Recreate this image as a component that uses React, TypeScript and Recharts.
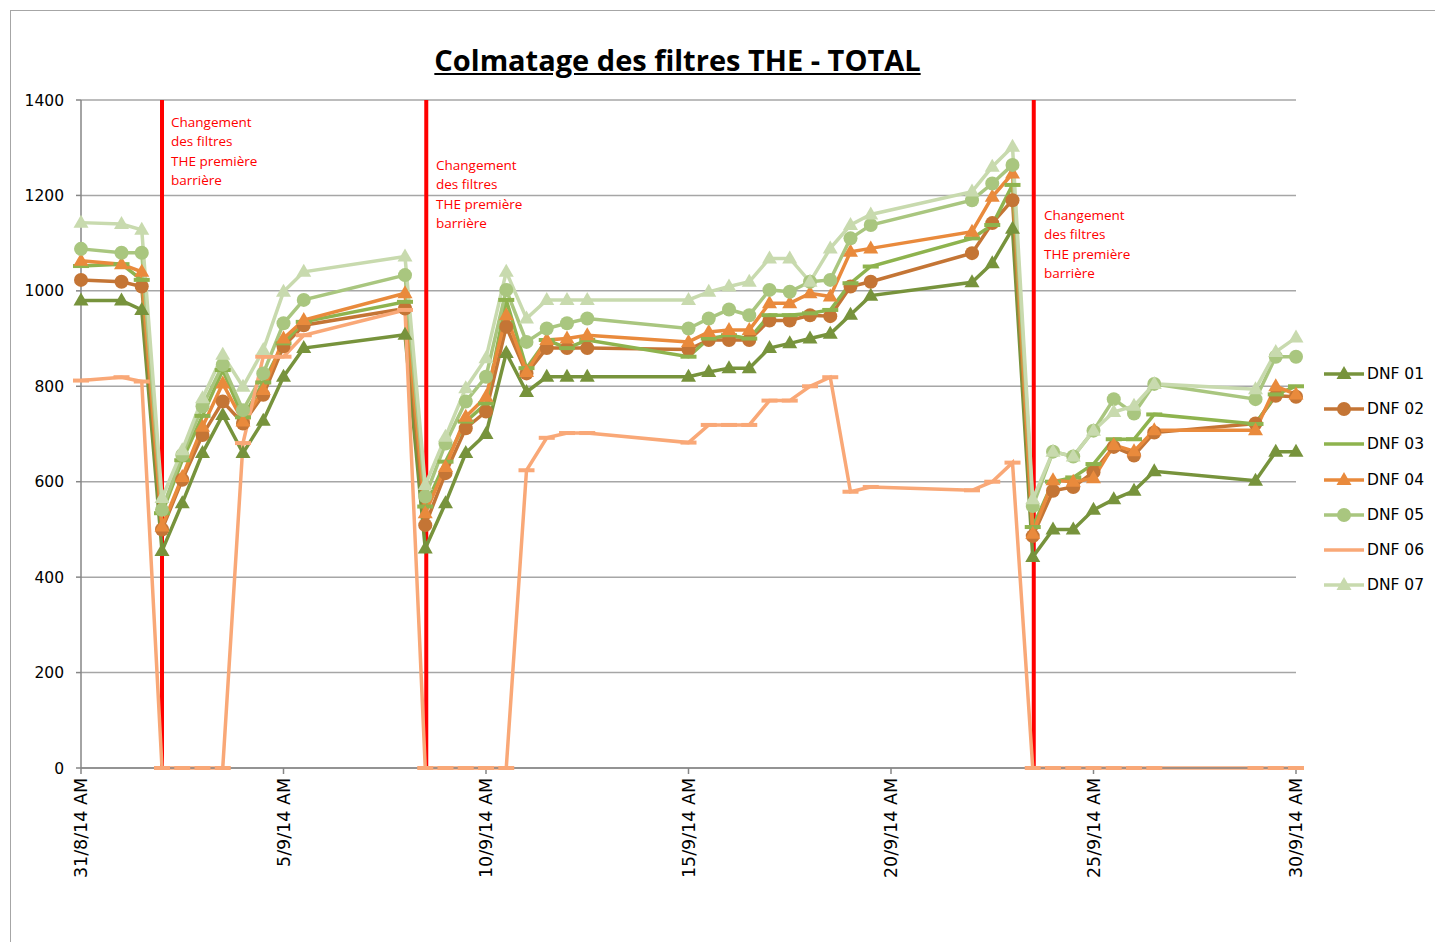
import React from "react";
import {
  LineChart,
  Line,
  XAxis,
  YAxis,
  CartesianGrid,
  ReferenceLine,
} from "recharts";

// x = half-days since 31/8/14 AM
const HALF_DAYS = [
  0, 2, 3, 4, 5, 6, 7, 8, 9, 10, 11, 16, 17, 18, 19, 20, 21, 22, 23, 24, 25,
  30, 31, 32, 33, 34, 35, 36, 37, 38, 39, 44, 45, 46, 47, 48, 49, 50, 51, 52,
  53, 58, 59, 60,
];

const DNF01 = [
  980, 980, 960, 455, 555, 660, 740, 660, 728, 820, 880, 908, 460, 555, 660,
  700, 870, 788, 820, 820, 820, 820, 830, 838, 838, 880, 890, 900, 910, 950,
  990, 1018, 1058, 1130, 442, 500, 500, 541, 563, 581, 622, 602, 663, 663,
];
const DNF02 = [
  1023, 1019, 1009, 500, 604, 698, 768, 722, 782, 884, 928, 963, 509, 618, 712,
  747, 925, 827, 880, 880, 880, 877, 897, 897, 897, 938, 938, 949, 947, 1009,
  1019, 1079, 1142, 1190, 486, 581, 589, 620, 673, 655, 703, 722, 780, 778,
];
const DNF03 = [
  1052, 1056, 1023, 534, 645, 738, 834, 735, 808, 890, 935, 977, 548, 642, 726,
  764, 981, 838, 897, 880, 897, 862, 900, 907, 900, 949, 949, 953, 960, 1016,
  1051, 1110, 1138, 1222, 505, 600, 609, 637, 689, 689, 741, 721, 783, 800,
];
const DNF04 = [
  1063, 1056, 1040, 506, 610, 715, 806, 726, 792, 900, 939, 995, 534, 631, 736,
  778, 949, 830, 897, 900, 907, 893, 914, 918, 918, 974, 974, 995, 988, 1082,
  1089, 1124, 1197, 1246, 491, 603, 600, 607, 677, 664, 708, 708, 800, 783,
];
const DNF05 = [
  1088, 1080, 1080, 541, 656, 758, 845, 750, 827, 932, 981, 1033, 569, 680,
  768, 820, 1002, 893, 921, 932, 942, 921, 942, 961, 949, 1002, 998, 1019,
  1023, 1110, 1138, 1190, 1225, 1264, 549, 663, 653, 707, 773, 743, 805, 773,
  862, 862,
];
const DNF06 = [
  812, 819, 810, 0, 0, 0, 0, 681, 862, 862, 907, 960, 0, 0, 0, 0, 0, 624, 692,
  702, 702, 682, 719, 719, 719, 770, 770, 800, 819, 579, 589, 582, 600, 640, 0,
  0, 0, 0, 0, 0, 0, 0, 0, 0,
];
const DNF07 = [
  1143, 1140, 1128, 566, 666, 775, 866, 799, 876, 998, 1040, 1072, 593, 694,
  796, 859, 1040, 942, 981, 981, 981, 981, 998, 1009, 1019, 1068, 1068, 1019,
  1089, 1138, 1160, 1208, 1260, 1302, 563, 663, 653, 707, 746, 759, 805, 794,
  872, 902,
];

const X_TICKS = [0, 10, 20, 30, 40, 50, 60];
const X_LABELS = [
  "31/8/14 AM",
  "5/9/14 AM",
  "10/9/14 AM",
  "15/9/14 AM",
  "20/9/14 AM",
  "25/9/14 AM",
  "30/9/14 AM",
];
const Y_TICKS = [0, 200, 400, 600, 800, 1000, 1200, 1400];

// filter changes (half-days)
const CHANGES = [4, 17.05, 47.05];
const CHANGE_TEXT = ["Changement", "des filtres", "THE première", "barrière"];

type Shape = "triangle" | "circle" | "dash";

const SERIES: { key: string; name: string; color: string; shape: Shape }[] = [
  { key: "d1", name: "DNF 01", color: "#77933C", shape: "triangle" },
  { key: "d2", name: "DNF 02", color: "#C47535", shape: "circle" },
  { key: "d3", name: "DNF 03", color: "#8EB34E", shape: "dash" },
  { key: "d4", name: "DNF 04", color: "#E98A3C", shape: "triangle" },
  { key: "d5", name: "DNF 05", color: "#A9C67F", shape: "circle" },
  { key: "d6", name: "DNF 06", color: "#F9A877", shape: "dash" },
  { key: "d7", name: "DNF 07", color: "#C8DAAE", shape: "triangle" },
];

const data = HALF_DAYS.map((h, i) => ({
  h,
  d1: DNF01[i],
  d2: DNF02[i],
  d3: DNF03[i],
  d4: DNF04[i],
  d5: DNF05[i],
  d6: DNF06[i],
  d7: DNF07[i],
}));

const FONT = "'DejaVu Sans', sans-serif";
const NOTE_FONT = "'Open Sans', sans-serif";

function Marker({ cx, cy, shape, color }: { cx: number; cy: number; shape: Shape; color: string }) {
  if (cx == null || cy == null) return null;
  if (shape === "triangle")
    return (
      <path
        d={`M${cx},${cy - 8} L${cx + 7.5},${cy + 5} L${cx - 7.5},${cy + 5} Z`}
        fill={color}
      />
    );
  if (shape === "circle") return <circle cx={cx} cy={cy} r={7} fill={color} />;
  return <rect x={cx - 8} y={cy - 2} width={16} height={4} fill={color} />;
}

function XTick(props: any) {
  const { x, y, payload } = props;
  const idx = X_TICKS.indexOf(payload.value);
  return (
    <text
      x={x}
      y={y}
      dy="0.36em"
      textAnchor="end"
      transform={`rotate(-90, ${x}, ${y})`}
      fontFamily={FONT}
      fontSize={17.5}
      fill="#000"
    >
      {X_LABELS[idx]}
    </text>
  );
}

export default function App() {
  return (
    <div
      style={{
        position: "absolute",
        left: 0,
        top: 0,
        width: 1435,
        height: 942,
        overflow: "hidden",
        background: "#fff",
      }}
    >
      <div
        style={{
          position: "absolute",
          left: 10,
          top: 10,
          width: 1440,
          height: 960,
          border: "1px solid #a6a6a6",
        }}
      />
      <div
        style={{
          position: "absolute",
          left: 0,
          width: 1355,
          top: 40,
          textAlign: "center",
          fontFamily: NOTE_FONT,
          fontWeight: 700,
          fontSize: 29,
          textDecoration: "underline",
          color: "#000",
        }}
      >
        Colmatage des filtres THE - TOTAL
      </div>

      <div style={{ position: "absolute", left: 0, top: 0 }}>
        <LineChart
          width={1435}
          height={942}
          data={data}
          margin={{ top: 100, right: 139, left: 21, bottom: 64 }}
        >
          <CartesianGrid vertical={false} stroke="#A6A6A6" strokeWidth={1.5} />
          <XAxis
            dataKey="h"
            type="number"
            domain={[0, 60]}
            ticks={X_TICKS}
            interval={0}
            height={110}
            tick={<XTick />}
            tickSize={6}
            tickMargin={4}
            axisLine={{ stroke: "#868686", strokeWidth: 1.5 }}
            tickLine={{ stroke: "#868686", strokeWidth: 1.5 }}
          />
          <YAxis
            type="number"
            domain={[0, 1400]}
            ticks={Y_TICKS}
            interval={0}
            width={60}
            tickSize={5}
            tickMargin={12}
            tick={{ fontFamily: FONT, fontSize: 15.5, fill: "#000" }}
            axisLine={{ stroke: "#868686", strokeWidth: 1.5 }}
            tickLine={{ stroke: "#868686", strokeWidth: 1.5 }}
          />
          {CHANGES.map((c) => (
            <ReferenceLine key={c} x={c} stroke="#FF0000" strokeWidth={4} />
          ))}
          {SERIES.map((s) => (
            <Line
              key={s.key}
              dataKey={s.key}
              name={s.name}
              stroke={s.color}
              strokeWidth={3.5}
              isAnimationActive={false}
              dot={(p: any) => (
                <Marker key={`${s.key}-${p.index}`} cx={p.cx} cy={p.cy} shape={s.shape} color={s.color} />
              )}
              activeDot={false}
            />
          ))}
        </LineChart>
      </div>

      {[
        { left: 171, top: 113 },
        { left: 436, top: 156 },
        { left: 1044, top: 206 },
      ].map((pos, i) => (
        <div
          key={i}
          style={{
            position: "absolute",
            left: pos.left,
            top: pos.top,
            fontFamily: NOTE_FONT,
            fontSize: 13.5,
            lineHeight: "19.3px",
            color: "#FF0000",
            whiteSpace: "nowrap",
          }}
        >
          {CHANGE_TEXT.map((t) => (
            <div key={t}>{t}</div>
          ))}
        </div>
      ))}

      <div style={{ position: "absolute", left: 1322, top: 356 }}>
        {SERIES.map((s) => (
          <div key={s.key} style={{ display: "flex", alignItems: "center", height: 35.3 }}>
            <svg width={44} height={20}>
              <line x1={2} y1={10} x2={42} y2={10} stroke={s.color} strokeWidth={3.5} />
              {s.shape !== "dash" && <Marker cx={22} cy={10} shape={s.shape} color={s.color} />}
            </svg>
            <span style={{ fontFamily: FONT, fontSize: 15.5, color: "#000", marginLeft: 1 }}>
              {s.name}
            </span>
          </div>
        ))}
      </div>
    </div>
  );
}
